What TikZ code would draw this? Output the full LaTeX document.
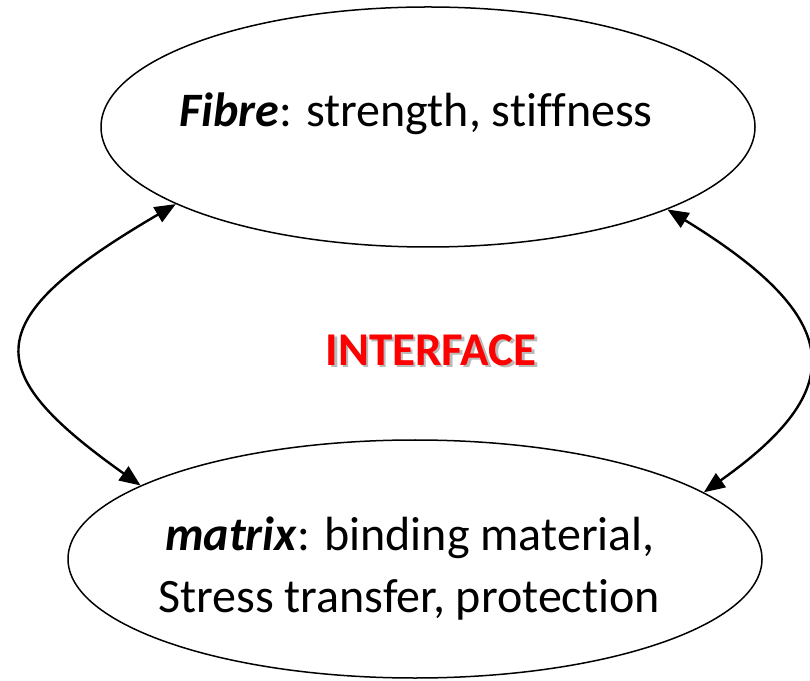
\documentclass[tikz,border=0pt]{standalone}
\usepackage{fontspec}
\setmainfont{Carlito}[Ligatures=NoCommon]
\usetikzlibrary{shapes.geometric,arrows.meta}

\tikzset{
  blob/.style={draw=black, line width=1.5pt, ellipse, inner sep=0pt},
  bodytext/.style={font=\fontsize{48}{62}\selectfont, align=center, inner sep=0pt, anchor=base},
  headtext/.style={font=\fontsize{47}{56}\selectfont\bfseries, inner sep=0pt},
  link/.style={line width=2.4pt, {Triangle[length=21pt,width=17pt]}-{Triangle[length=21pt,width=17pt]}}
}

\begin{document}
\begin{tikzpicture}[x=1pt,y=1pt]
  \useasboundingbox (0,0) rectangle (810,680);

  % the two constituents
  \node[blob, minimum width=654pt, minimum height=240pt] (fibre) at (428,553) {};
  \node[blob, minimum width=694pt, minimum height=238pt] (matrix) at (415,121) {};

  \node[bodytext] (fibretext) at (416,553) {\textbf{\textit{Fibre}}: strength, stiffness};
  \node[bodytext] (matrixtext1) at (410,130) {\textbf{\textit{matrix}}: binding material,};
  \node[bodytext] (matrixtext2) at (409,68) {Stress transfer, protection};

  % interface label with a soft drop shadow
  \node[headtext, text=black!45, opacity=0.6] (shadow) at (433.5,327.5) {INTERFACE};
  \node[headtext, text=red] (interface) at (431,330) {INTERFACE};

  % curved double-headed links
  \draw[link] (fibre.197) .. controls (-22,360) and (-22,310) .. (matrix.165);
  \draw[link] (fibre.341) .. controls (848,360) and (848,290) .. (matrix.13);
\end{tikzpicture}
\end{document}
